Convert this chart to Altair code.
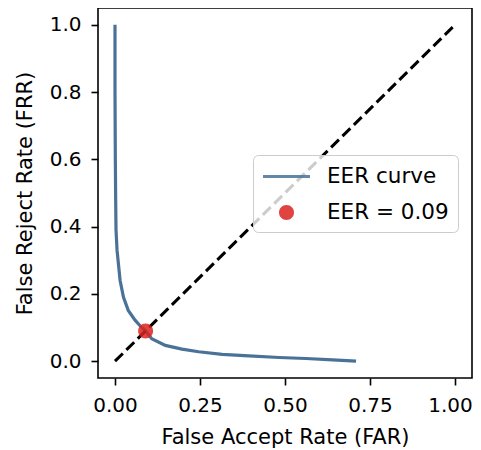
import altair as alt
import pandas as pd

# EER curve
far = [0.000, 0.000, 0.001, 0.002, 0.003, 0.006, 0.010, 0.015, 0.025, 0.039, 0.059, 0.075,
       0.090, 0.108, 0.148, 0.197, 0.246, 0.315, 0.394, 0.483, 0.561, 0.640, 0.709]
frr = [1.000, 0.800, 0.600, 0.480, 0.390, 0.330, 0.290, 0.240, 0.190, 0.151, 0.122, 0.104,
       0.090, 0.067, 0.047, 0.036, 0.028, 0.020, 0.016, 0.011, 0.008, 0.004, 0.000]
diag_x = [0.0, 1.0]
diag_y = [0.0, 1.0]
eer_value = 0.09
series = ["EER curve", "EER = 0.09"]
x_ticks = [0.0, 0.25, 0.5, 0.75, 1.0]
y_ticks = [0.0, 0.2, 0.4, 0.6, 0.8, 1.0]

BLUE = "#4a7298"
RED = "#d92320"
FONT = "DejaVu Sans"

curve_df = pd.DataFrame({"far": far, "frr": frr, "i": list(range(len(far)))})
diag_df = pd.DataFrame({"far": diag_x, "frr": diag_y})
eer_df = pd.DataFrame({"far": [eer_value], "frr": [eer_value], "series": [series[1]]})

xs = alt.Scale(domain=[-0.05, 1.05], nice=False, zero=False)
ys = alt.Scale(domain=[-0.05, 1.05], nice=False, zero=False)

x_enc = alt.X("far:Q", scale=xs, title="False Accept Rate (FAR)",
              axis=alt.Axis(values=x_ticks, format=".2f",
                            labelOffset={"condition": {"test": "datum.value >= 1", "value": -5},
                                         "value": 0}))
y_enc = alt.Y("frr:Q", scale=ys, title="False Reject Rate (FRR)",
              axis=alt.Axis(values=y_ticks, format=".1f"))

curve = alt.Chart(curve_df).mark_line(color=BLUE, strokeWidth=3.2).encode(
    x=x_enc, y=y_enc, order=alt.Order("i:Q"))

diag = alt.Chart(diag_df).mark_line(color="black", strokeWidth=3, strokeDash=[11, 5]).encode(
    x="far:Q", y="frr:Q")

LINE_PATH = "M-2.043,-0.13H2.043V0.13H-2.043Z"
CIRCLE_PATH = "M0.652,0A0.652,0.652,0,1,1,-0.652,0A0.652,0.652,0,1,1,0.652,0Z"

leg = alt.Legend(title=None, orient="none", legendX=155, legendY=147,
                 labelFont=FONT, labelFontSize=21.5, labelColor="black",
                 symbolSize=529, symbolOffset=12, labelOffset=28, rowPadding=13,
                 padding=9, fillColor="rgba(255,255,255,0.8)", strokeColor="#cccccc",
                 cornerRadius=5, zindex=1)

point = alt.Chart(eer_df).mark_point(filled=True, size=529, opacity=0.85).encode(
    x="far:Q", y="frr:Q",
    color=alt.Color("series:N", scale=alt.Scale(domain=series, range=[BLUE, RED]), legend=leg),
    shape=alt.Shape("series:N", scale=alt.Scale(domain=series, range=[LINE_PATH, CIRCLE_PATH]), legend=leg),
)

chart = alt.layer(curve, diag, point).properties(
    width=374, height=370,
    autosize=alt.AutoSizeParams(type="none"),
    padding={"left": 90, "top": 0, "right": 1, "bottom": 72},
).configure_view(stroke="black", strokeWidth=1.6).configure_axis(
    domain=False, grid=False, tickColor="black", tickWidth=1.6, tickSize=7,
    labelFont=FONT, labelFontSize=20, labelColor="black",
    titleFont=FONT, titleFontSize=21, titleFontWeight="normal", titleColor="black",
).configure_axisY(labelPadding=10, titlePadding=14).configure_axisX(labelPadding=10, titlePadding=11)

chart.save("out.html", embed_options={"renderer": "svg", "actions": False})
